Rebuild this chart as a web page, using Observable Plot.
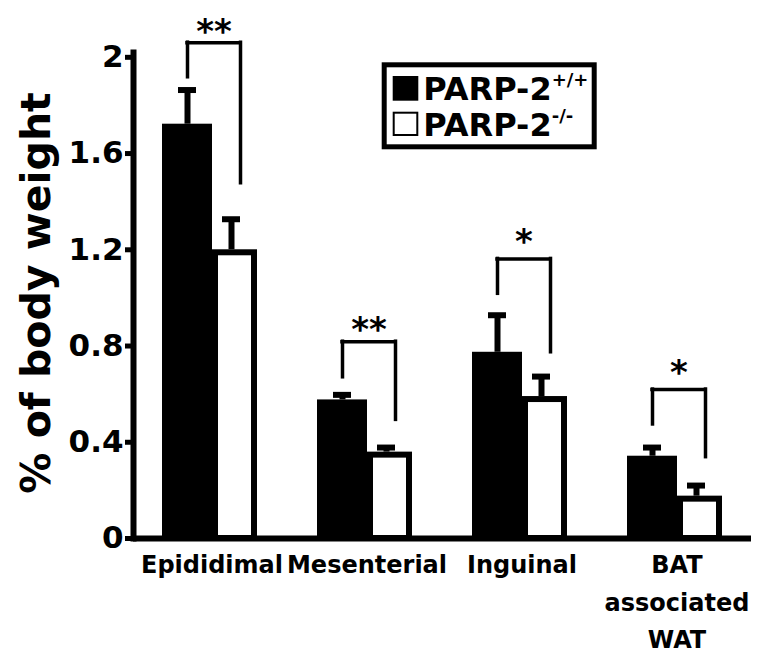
<!DOCTYPE html>
<html><head><meta charset="utf-8">
<script src="https://cdn.jsdelivr.net/npm/d3@7"></script>
<script src="https://cdn.jsdelivr.net/npm/@observablehq/plot@0.6"></script>
<style>
body{margin:0;background:#fff;}
#wrap{position:relative;width:764px;height:653px;}
#legend{position:absolute;left:0;top:0;pointer-events:none;}
</style></head><body><div id="wrap"></div>
<script>
// ---- data ----
const categories = ["Epididimal", "Mesenterial", "Inguinal", "BAT\nassociated\nWAT"];
const groups = ["PARP-2", "PARP-2"];
const groupSup = ["+/+", "-/-"];
const wtMean = [1.722, 0.576, 0.774, 0.342];   // PARP-2+/+
const wtUpper = [1.864, 0.597, 0.928, 0.378];  // top of error bar
const koMean = [1.20, 0.359, 0.590, 0.176];    // PARP-2-/-
const koUpper = [1.327, 0.378, 0.673, 0.220];
const bracketTop = [2.061, 0.818, 1.162, 0.619];
const bracketLeft = [1.917, 0.670, 1.017, 0.474];
const bracketRight = [1.477, 0.493, 0.774, 0.338];
const stars = ["**", "**", "*", "*"];
const starY = [2.136, 0.899, 1.266, 0.719];
const yTicks = [0, 0.4, 0.8, 1.2, 1.6, 2];

const rows = categories.map((c, i) => ({
  cat: c, wt: wtMean[i], wtU: wtUpper[i], ko: koMean[i], koU: koUpper[i],
  bTop: bracketTop[i], bL: bracketLeft[i], bR: bracketRight[i],
  star: stars[i], starY: starY[i]
}));

const plot = Plot.plot({
  width: 764, height: 653,
  marginLeft: 133, marginRight: 13, marginTop: 52, marginBottom: 115,
  style: {fontFamily: "DejaVu Sans", fontWeight: "bold", background: "#fff", color: "#000", overflow: "visible"},
  x: {domain: categories, range: [161.7, 721.7], paddingInner: 60 / 155, paddingOuter: 0, axis: null},
  y: {domain: [0, 2.02], axis: null},
  marks: [
    Plot.barY(rows, {x: "cat", y: "wt", fill: "#000", insetRight: 45}),
    Plot.barY(rows, {x: "cat", y: "ko", fill: "#fff", stroke: "#000", strokeWidth: 6, insetLeft: 53, insetRight: 3, insetTop: 3}),
    // error bars
    Plot.ruleX(rows, {x: "cat", y1: "wt", y2: "wtU", dx: -22.5, stroke: "#000", strokeWidth: 6}),
    Plot.tickY(rows, {x: "cat", y: "wtU", insetLeft: 16, insetRight: 61, stroke: "#000", strokeWidth: 6}),
    Plot.ruleX(rows, {x: "cat", y1: "ko", y2: "koU", dx: 21.5, stroke: "#000", strokeWidth: 6}),
    Plot.tickY(rows, {x: "cat", y: "koU", insetLeft: 60, insetRight: 17, stroke: "#000", strokeWidth: 6}),
    // significance brackets
    Plot.tickY(rows, {x: "cat", y: "bTop", insetLeft: 25, insetRight: 17, stroke: "#000", strokeWidth: 3.5, strokeLinecap: "square"}),
    Plot.ruleX(rows, {x: "cat", y1: "bL", y2: "bTop", dx: -22.5, stroke: "#000", strokeWidth: 3.5, strokeLinecap: "square"}),
    Plot.ruleX(rows, {x: "cat", y1: "bR", y2: "bTop", dx: 30.5, stroke: "#000", strokeWidth: 3.5, strokeLinecap: "square"}),
    Plot.text(rows, {x: "cat", y: "starY", text: "star", dx: 4, dy: 8, fontSize: 34, fill: "#000"}),
    // axes
    Plot.ruleY([0], {stroke: "#000", strokeWidth: 6}),
    Plot.frame({anchor: "left", stroke: "#000", strokeWidth: 6}),
    Plot.axisY({ticks: yTicks, tickFormat: d => String(d), tickSize: 8, tickPadding: 2, strokeWidth: 5, fontSize: 31, label: null}),
    Plot.text(rows, {x: "cat", text: "cat", frameAnchor: "bottom", lineAnchor: "top", dy: 8.3, dx: 2, lineHeight: 1.56, fontSize: 24, fill: "#000"}),
    Plot.text(["% of body weight"], {frameAnchor: "left", textAnchor: "middle", text: d => d, rotate: -90, dx: -97, dy: -2.5, fontSize: 41, fill: "#000"})
  ]
});
document.getElementById("wrap").appendChild(plot);

// ---- legend (inside the plot area, top right) ----
const lg = d3.select("#wrap").append("svg").attr("id", "legend")
  .attr("width", 764).attr("height", 653)
  .style("font-family", "DejaVu Sans").style("font-weight", "bold");
lg.append("rect").attr("x", 384.2).attr("y", 64.8).attr("width", 210).attr("height", 82)
  .attr("fill", "#fff").attr("stroke", "#000").attr("stroke-width", 5);
const fills = ["#000", "#fff"];
const rowY = [100, 136];
groups.forEach((g, i) => {
  if (i === 0) {
    lg.append("rect").attr("x", 392.7).attr("y", 76).attr("width", 25.6).attr("height", 24.7).attr("fill", fills[i]);
  } else {
    lg.append("rect").attr("x", 393.7).attr("y", 112.7).attr("width", 23.6).attr("height", 22.3)
      .attr("fill", fills[i]).attr("stroke", "#000").attr("stroke-width", 2);
  }
  const t = lg.append("text").attr("x", 423.3).attr("y", rowY[i]).attr("font-size", 32).attr("fill", "#000");
  t.append("tspan").text(g);
  t.append("tspan").attr("font-size", 18).attr("dy", -14).text(groupSup[i]);
});
</script></body></html>
